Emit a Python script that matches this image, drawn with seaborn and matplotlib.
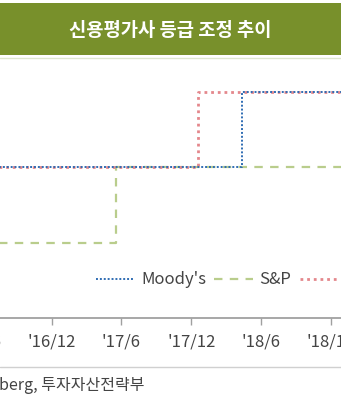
import matplotlib
matplotlib.use("Agg")
import matplotlib.pyplot as plt
import matplotlib.dates as mdates
from matplotlib.patches import Rectangle
from matplotlib.lines import Line2D
import seaborn as sns
import pandas as pd

sns.set_theme(style="white")
plt.rcParams['font.family'] = ['Noto Sans CJK KR', 'DejaVu Sans']

# ---- data ----
title = "신용평가사 등급 조정 추이"
source = "자료: Bloomberg, 투자자산전략부"
agencies = ["Moody's", "S&P", "Fitch"]
moodys_dates = ["2016-01-01", "2018-04-13", "2019-03-01"]
moodys_levels = [2, 3, 3]
sp_dates = ["2016-01-01", "2017-05-19", "2019-03-01"]
sp_levels = [1, 2, 2]
fitch_dates = ["2016-01-01", "2017-12-20", "2019-03-01"]
fitch_levels = [2, 3, 3]
tick_dates = ["2016-06-01", "2016-12-01", "2017-06-01", "2017-12-01",
              "2018-06-01", "2018-12-01", "2019-06-01"]
tick_labels = ["'16/6", "'16/12", "'17/6", "'17/12", "'18/6", "'18/12", "'19/6"]

W, H = 341, 400
fig = plt.figure(figsize=(W / 100, H / 100), dpi=100)

# header band
fig.patches.append(Rectangle((0, (H - 55) / H), 1, 52 / H, transform=fig.transFigure,
                             facecolor="#78902b", edgecolor="none", zorder=0))
fig.add_artist(Line2D([0, 1], [(H - 57.5) / H] * 2, transform=fig.transFigure,
                      color="#dfe6cf", lw=1))
fig.text(0.5, (H - 30) / H, title, ha="center", va="center", color="white",
         fontsize=13.5, fontweight="bold")

# axes placement (chart cropped at both sides)
L, R = -60, 400
x0px, ppd = 52, 279 / 730.0
bottom_px, top_px = 318, 62
ax = fig.add_axes([L / W, (H - bottom_px) / H, (R - L) / W, (bottom_px - top_px) / H])
x0 = mdates.date2num(pd.Timestamp("2016-12-01"))
ax.set_xlim(x0 + (L - x0px) / ppd, x0 + (R - x0px) / ppd)
ax.set_ylim(0, 3.4)

styles = {
    "S&P": dict(color="#b9cd8c", lw=1.6, dashes=(3.8, 3.3)),
    "Fitch": dict(color="#e4878c", lw=2.0, dashes=(1, 1.4)),
    "Moody's": dict(color="#2f6cb3", lw=1.4, dashes=(1, 1.0)),
}
data = {
    "Moody's": (moodys_dates, moodys_levels),
    "S&P": (sp_dates, sp_levels),
    "Fitch": (fitch_dates, fitch_levels),
}
for name in ["S&P", "Fitch", "Moody's"]:
    d, v = data[name]
    df = pd.DataFrame({"date": pd.to_datetime(d), "level": v})
    st = styles[name]
    sns.lineplot(data=df, x="date", y="level", ax=ax, drawstyle="steps-post",
                 color=st["color"], lw=st["lw"], dashes=False, label=name,
                 legend=False)
    ax.lines[-1].set_dashes(st["dashes"])

ax.set_xticks([mdates.date2num(pd.Timestamp(t)) for t in tick_dates])
ax.set_xticklabels(tick_labels, fontsize=12, color="#444444")
ax.set_yticks([])
ax.set_xlabel("")
ax.set_ylabel("")
for s in ["top", "right", "left"]:
    ax.spines[s].set_visible(False)
ax.spines["bottom"].set_color("#a0a0a0")
ax.spines["bottom"].set_linewidth(1.3)
ax.tick_params(axis="x", direction="out", length=5, width=1, color="#a0a0a0", pad=6,
               bottom=True)
ax.patch.set_alpha(0)

handles = []
for name in agencies:
    st = styles[name]
    h = Line2D([], [], color=st["color"], lw=st["lw"], label=name)
    h.set_dashes(st["dashes"])
    handles.append(h)
fig.legend(handles=handles, loc="center left",
           bbox_to_anchor=(96 / W, (H - 280) / H), bbox_transform=fig.transFigure,
           ncol=3, frameon=False, fontsize=12, handlelength=2.3,
           handletextpad=0.4, columnspacing=0.5, labelcolor="#444444",
           borderaxespad=0, borderpad=0)

# bottom separator and source
fig.add_artist(Line2D([0, 1], [(H - 367) / H] * 2, transform=fig.transFigure,
                      color="#d0d0d0", lw=1))
fig.text(144 / W, (H - 385) / H, source, ha="right", va="center", fontsize=11.5,
         color="#444444")

fig.savefig("out.png", dpi=100)
